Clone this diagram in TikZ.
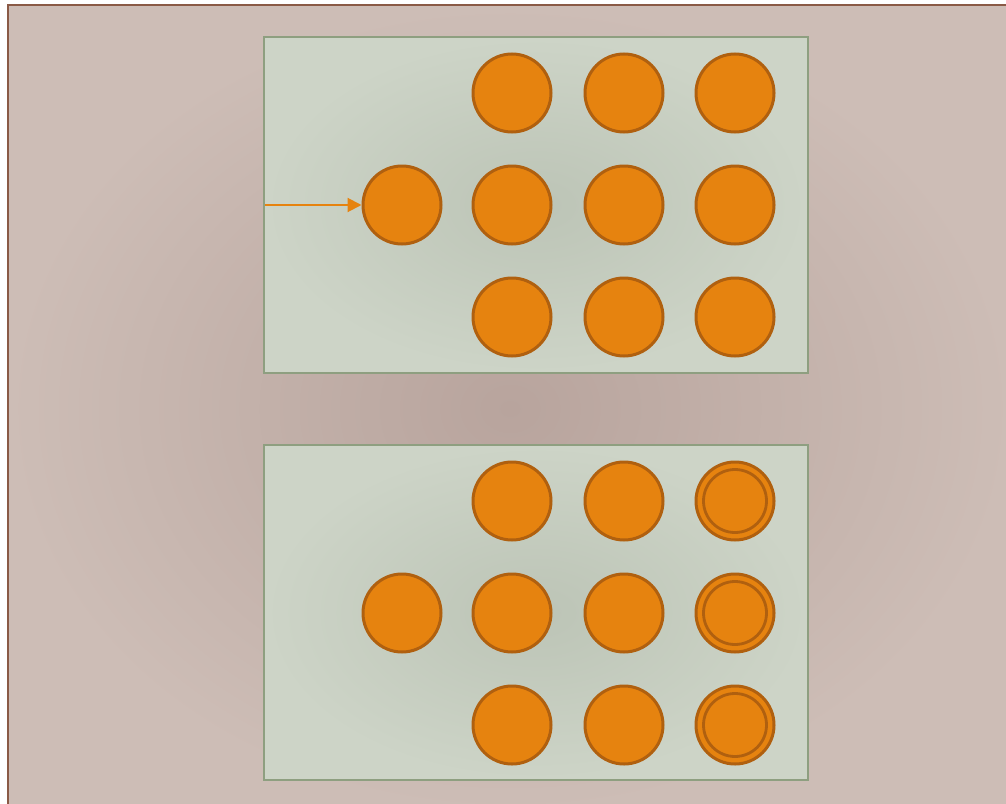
\documentclass[tikz,border=0pt]{standalone}
\usetikzlibrary{arrows.meta}
\definecolor{bgin}{HTML}{B8A49D}
\definecolor{bgout}{HTML}{CDBDB6}
\definecolor{bgborder}{HTML}{8A5A46}
\definecolor{pin}{HTML}{BCC4B6}
\definecolor{pout}{HTML}{CDD4C7}
\definecolor{pborder}{HTML}{8E9F80}
\definecolor{dotfill}{HTML}{E6830F}
\definecolor{dotline}{HTML}{B0600F}
\tikzset{
  panel/.style={draw=pborder, line width=2pt, inner color=pin, outer color=pout},
  dot/.style={circle, draw=dotline, fill=dotfill, line width=3pt, minimum size=78pt, inner sep=0pt},
  innerring/.style={circle, draw=dotline, line width=2.8pt, minimum size=63pt, inner sep=0pt},
  feed/.style={draw=dotfill, line width=2pt, -{Triangle[length=14pt,width=14pt]}}
}
\begin{document}
\begin{tikzpicture}[x=1pt,y=-1pt]
\useasboundingbox (0,0) rectangle (1006,803);
\fill[white] (0,0) rectangle (1006,803);
\begin{scope}
\clip (0,0) rectangle (1006,803);
\draw[bgborder, line width=2.2pt, inner color=bgin, outer color=bgout] (8,5) rectangle (1012,812);
\end{scope}
% panels
\draw[panel] (264,37) rectangle (808,373);
\draw[panel] (264,445) rectangle (808,780);
% top panel
\node[dot] (t1) at (402,205) {};
\node[dot] (t2) at (512,93) {};
\node[dot] (t3) at (624,93) {};
\node[dot] (t4) at (735,93) {};
\node[dot] (t5) at (512,205) {};
\node[dot] (t6) at (624,205) {};
\node[dot] (t7) at (735,205) {};
\node[dot] (t8) at (512,317) {};
\node[dot] (t9) at (624,317) {};
\node[dot] (t10) at (735,317) {};
\coordinate (src) at (265,205);
\draw[feed] (src) -- (t1.west);
% bottom panel
\node[dot] (b1) at (402,613) {};
\node[dot] (b2) at (512,501) {};
\node[dot] (b3) at (624,501) {};
\node[dot] (b4) at (735,501) {};
\node[dot] (b5) at (512,613) {};
\node[dot] (b6) at (624,613) {};
\node[dot] (b7) at (735,613) {};
\node[dot] (b8) at (512,725) {};
\node[dot] (b9) at (624,725) {};
\node[dot] (b10) at (735,725) {};
\node[innerring] (r4) at (b4) {};
\node[innerring] (r7) at (b7) {};
\node[innerring] (r10) at (b10) {};
\end{tikzpicture}
\end{document}
